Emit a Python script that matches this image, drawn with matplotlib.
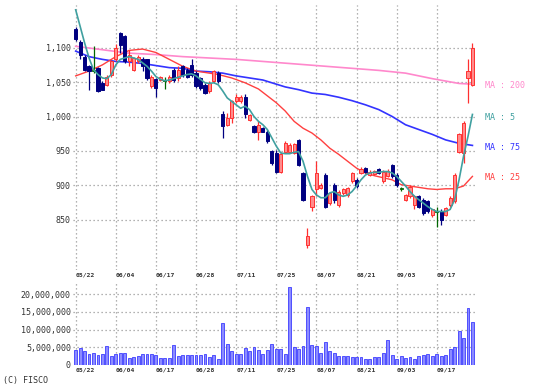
import matplotlib
matplotlib.use('Agg')
import matplotlib.pyplot as plt

# 日足データ (2013/05/22 - 09/30)
opens = [1127, 1108, 1087, 1073, 1067, 1070, 1049, 1046, 1061, 1083,
         1121, 1117, 1080, 1068, 1080, 1083, 1083, 1044, 1054, 1053,
         1052, 1051, 1067, 1056, 1073, 1068, 1075, 1063, 1056, 1046,
         1037, 1051, 1063, 1003, 988, 998, 1022, 1022, 1029, 995,
         986, 978, 983, 978, 950, 947, 920, 949, 949, 947,
         966, 918, 814, 869, 894, 896, 915, 874, 901, 872,
         889, 886, 906, 908, 918, 925, 915, 917, 924, 906,
         914, 930, 915, 895, 879, 884, 872, 884, 879, 877,
         857, 862, 862, 857, 872, 877, 949, 947, 1056, 1046]
highs = [1130, 1111, 1090, 1075, 1102, 1072, 1051, 1061, 1082, 1106,
         1123, 1119, 1097, 1087, 1090, 1086, 1084, 1061, 1056, 1059,
         1057, 1061, 1070, 1073, 1075, 1070, 1083, 1066, 1058, 1048,
         1051, 1068, 1066, 1008, 1005, 1024, 1032, 1031, 1032, 1004,
         988, 993, 985, 981, 952, 951, 949, 964, 961, 962,
         968, 920, 838, 886, 935, 903, 918, 891, 903, 893,
         896, 898, 920, 910, 926, 926, 922, 922, 925, 922,
         924, 931, 918, 898, 888, 900, 886, 886, 881, 879,
         866, 869, 865, 869, 884, 918, 976, 993, 1083, 1107]
lows = [1109, 1083, 1066, 1039, 1063, 1035, 1038, 1044, 1058, 1080,
        1092, 1078, 1073, 1066, 1078, 1066, 1053, 1041, 1029, 1051,
        1040, 1049, 1050, 1051, 1058, 1056, 1058, 1041, 1039, 1032,
        1034, 1048, 1048, 969, 986, 990, 1020, 1020, 998, 993,
        976, 966, 977, 961, 930, 918, 918, 947, 948, 945,
        928, 877, 809, 862, 884, 894, 867, 872, 874, 869,
        886, 883, 903, 896, 916, 918, 913, 915, 917, 904,
        912, 911, 898, 892, 877, 882, 865, 867, 857, 860,
        854, 840, 843, 855, 869, 874, 947, 932, 1020, 1045]
closes = [1113, 1090, 1068, 1066, 1067, 1037, 1039, 1058, 1080, 1100,
          1104, 1080, 1090, 1085, 1087, 1073, 1056, 1058, 1041, 1057,
          1052, 1058, 1053, 1068, 1061, 1058, 1061, 1044, 1041, 1034,
          1049, 1066, 1051, 986, 998, 1022, 1029, 1028, 1003, 1002,
          977, 988, 978, 964, 932, 920, 945, 961, 959, 960,
          930, 879, 826, 884, 918, 901, 869, 889, 879, 891,
          894, 896, 918, 899, 924, 920, 920, 921, 918, 920,
          921, 913, 901, 895, 886, 898, 884, 869, 860, 862,
          865, 862, 850, 867, 882, 915, 974, 991, 1066, 1100]
volumes = [4.1, 4.8, 4.0, 3.0, 3.5, 2.9, 3.1, 5.4, 2.5, 3.0,
           3.3, 3.3, 1.9, 2.3, 2.5, 3.2, 3.1, 3.0, 2.9, 2.1,
           1.9, 1.9, 5.7, 2.4, 2.8, 2.8, 2.8, 2.9, 2.9, 3.1,
           2.3, 2.8, 1.6, 11.8, 5.8, 4.0, 3.2, 3.1, 4.9, 4.0,
           5.1, 4.3, 3.2, 4.3, 5.8, 4.5, 4.5, 3.2, 22.1, 5.0,
           4.5, 5.4, 16.3, 5.7, 5.3, 3.4, 6.5, 4.0, 3.5, 2.6,
           2.5, 2.4, 2.3, 2.3, 2.2, 1.8, 1.8, 2.2, 2.2, 3.3,
           7.0, 2.8, 1.8, 2.5, 2.0, 2.2, 1.8, 2.5, 2.8, 3.0,
           2.5, 3.2, 2.5, 2.8, 4.6, 5.0, 9.5, 7.7, 16.1, 12.2]  # 百万株

ma5 = [1155, 1131, 1107, 1085, 1068, 1061, 1056, 1055, 1061, 1075,
       1083, 1085, 1087, 1085, 1083, 1078, 1073, 1066, 1058, 1054,
       1052, 1053, 1055, 1057, 1059, 1061, 1062, 1059, 1054, 1049,
       1048, 1049, 1046, 1037, 1027, 1022, 1017, 1012, 1015, 1010,
       1000, 993, 988, 981, 969, 957, 947, 946, 946, 948,
       949, 935, 913, 894, 886, 882, 882, 889, 891, 886,
       884, 886, 891, 899, 908, 915, 918, 919, 919, 920,
       920, 918, 913, 906, 899, 891, 884, 879, 874, 869,
       865, 862, 862, 862, 865, 879, 908, 942, 971, 1003]
ma25_idx = [0, 3, 6, 9, 12, 15, 18, 21, 24, 27, 30, 32, 35, 38, 41, 44,
            45, 47, 49, 51, 53, 55, 57, 59, 61, 63, 65, 67, 69, 71, 73,
            75, 77, 79, 81, 83, 85, 87, 89]
ma25 = [1059, 1066, 1075, 1087, 1096, 1098, 1093, 1083, 1073, 1066, 1063, 1061,
        1056, 1049, 1040, 1025, 1020, 1008, 993, 983, 976, 966, 954, 945, 935,
        925, 918, 914, 911, 908, 901, 899, 897, 895, 894, 895, 895, 899, 913]
ma75_idx = [0, 3, 6, 9, 12, 15, 18, 21, 24, 27, 30, 33, 36, 39, 42, 44, 47,
            50, 53, 56, 59, 62, 65, 68, 71, 74, 77, 80, 83, 86, 89]
ma75 = [1095, 1087, 1083, 1080, 1079, 1077, 1074, 1071, 1070, 1066, 1065,
        1063, 1059, 1056, 1053, 1049, 1043, 1039, 1034, 1032, 1028, 1023,
        1017, 1010, 1000, 988, 981, 974, 966, 961, 958]
ma200_idx = [0, 6, 12, 18, 24, 30, 36, 42, 44, 50, 56, 62, 68, 74, 80, 86, 89]
ma200 = [1102, 1097, 1092, 1090, 1087, 1085, 1083, 1080, 1079, 1076, 1073,
         1070, 1067, 1063, 1055, 1048, 1047]

tick_pos = [0, 9, 18, 27, 36, 45, 54, 63, 72, 81]
tick_labels = ['05/22', '06/04', '06/17', '06/28', '07/11',
               '07/25', '08/07', '08/21', '09/03', '09/17']
price_ticks = [850, 900, 950, 1000, 1050, 1100]
vol_ticks = [0, 5e6, 10e6, 15e6, 20e6]

UP = '#ff3030'
UP_FILL = '#ff8c8c'
DOWN = '#000080'
DOJI = '#006600'
GRID = '#999999'
MONO = 'DejaVu Sans Mono'


def style_axis(ax):
    for s in ax.spines.values():
        s.set_visible(False)
    ax.set_xlim(-0.6, 89.8)
    ax.set_xticks(tick_pos)
    ax.set_xticklabels(tick_labels, fontsize=4.6, family=MONO, fontweight='bold', color='#333333')
    for lb in ax.get_xticklabels():
        lb.set_ha('left')
    ax.tick_params(axis='both', length=0, pad=1.5)
    ax.grid(True, color=GRID, linestyle=(0, (1, 2.2)), linewidth=0.9)
    ax.set_axisbelow(True)


fig = plt.figure(figsize=(5.37, 3.90), dpi=100)
W, H = 537.0, 390.0
ax1 = fig.add_axes([73 / W, 1 - 270 / H, 403 / W, 265 / H])
ax2 = fig.add_axes([73 / W, 1 - 365 / H, 403 / W, 82 / H])

# ローソク足
n = len(closes)
for i in range(n):
    o, h, l, c = opens[i], highs[i], lows[i], closes[i]
    if c > o:
        ec, fc = UP, UP_FILL
    elif c < o:
        ec, fc = DOWN, DOWN
    else:
        ec, fc = DOJI, DOJI
    ax1.vlines(i, l, h, color=ec, linewidth=0.9, zorder=3)
    if c == o:
        ax1.bar(i, 1.5, bottom=o - 0.75, width=0.7, color=fc, edgecolor=ec, linewidth=0.6, zorder=4)
    else:
        ax1.bar(i, abs(c - o), bottom=min(o, c), width=0.7, color=fc, edgecolor=ec,
                linewidth=0.7, zorder=4)

# 移動平均線
ax1.plot(ma200_idx, ma200, color='#ff88cc', linewidth=1.2, zorder=2)
ax1.plot(ma75_idx, ma75, color='#3333ff', linewidth=1.2, zorder=2)
ax1.plot(ma25_idx, ma25, color='#ff4040', linewidth=1.0, zorder=2)
ax1.plot(range(n), ma5, color='#40a0a0', linewidth=1.2, zorder=5)

ax1.set_ylim(777, 1162)
ax1.set_yticks(price_ticks)
ax1.set_yticklabels(['{:,}'.format(v) for v in price_ticks], fontsize=6, family=MONO, color='#333333')
style_axis(ax1)

# 出来高
ax2.bar(range(n), [v * 1e6 for v in volumes], width=0.65, color='#8c8cff',
        edgecolor='#3c3cff', linewidth=0.6, zorder=3)
ax2.set_ylim(0, 23.1e6)
ax2.set_yticks(vol_ticks)
ax2.set_yticklabels(['{:,}'.format(int(v)) for v in vol_ticks], fontsize=6, family=MONO, color='#333333')
style_axis(ax2)
ax2.yaxis.get_gridlines()[0].set_visible(False)

# MAラベル
labels = [('MA : 200', '#ff88cc', 85), ('MA : 5', '#40a0a0', 117),
          ('MA : 75', '#3333ff', 147), ('MA : 25', '#ff4040', 178)]
for txt, col, ypx in labels:
    fig.text(485 / W, 1 - ypx / H, txt, color=col, fontsize=6, family=MONO, va='center', ha='left')

fig.text(3 / W, 1 - 381 / H, '(C) FISCO', fontsize=6, family=MONO, va='center', ha='left', color='#333333')

plt.savefig('out.png', dpi=100)
